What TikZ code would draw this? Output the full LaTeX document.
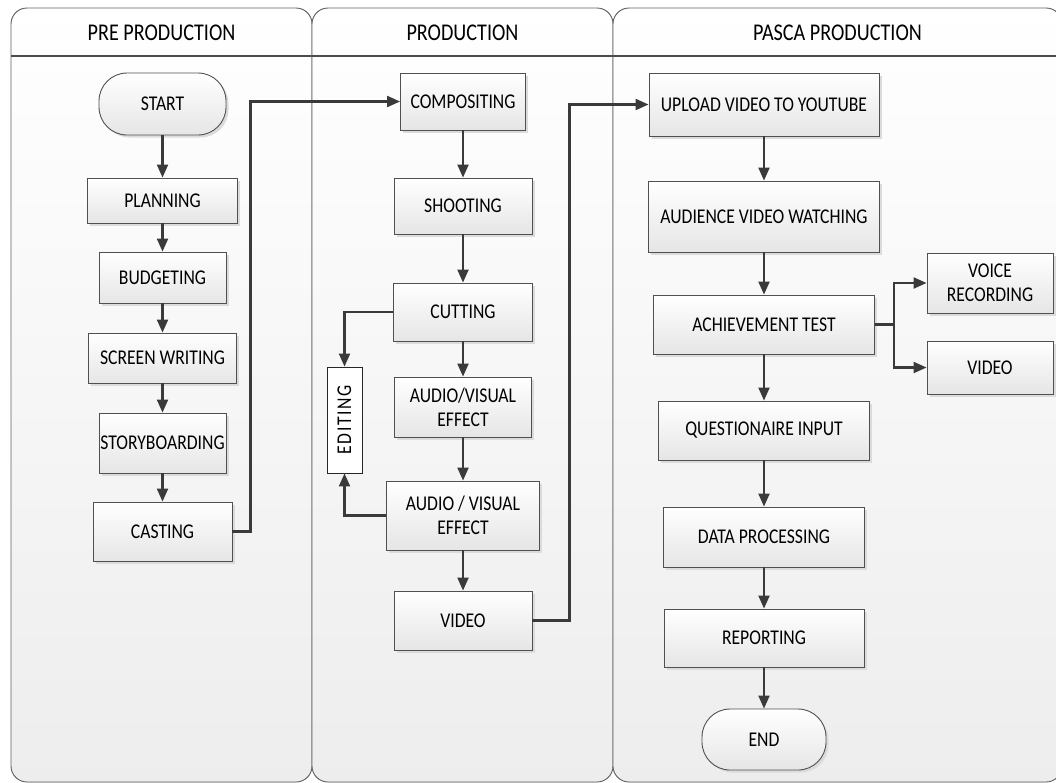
\documentclass[tikz,border=0pt]{standalone}
\usepackage{fontspec}
\setmainfont{Carlito}[FakeStretch=0.84]
\usetikzlibrary{arrows.meta}
\definecolor{ln}{HTML}{3a3a3a}
\definecolor{bd}{HTML}{505050}
\newcommand\bxfont{\fontsize{21}{24}\selectfont}
\newcommand\hdfont{\fontsize{24}{28}\selectfont}
\tikzset{
  lanebody/.style={top color=white, bottom color=black!7},
  lanehead/.style={top color=white, bottom color=black!10},
  laneline/.style={draw=black!62, line width=0.9pt},
  headtext/.style={font=\hdfont, text=black, inner sep=0pt},
  box/.style={draw=bd, line width=0.9pt, top color=white, bottom color=black!10,
    text=black, font=\bxfont, align=center, inner sep=0pt,
    preaction={fill=black!14, transform canvas={xshift=2.5pt, yshift=-2.5pt}}},
  term/.style={box, rounded corners=28pt},
  sidebox/.style={draw=black!85, line width=0.9pt, fill=white, text=black,
    font=\bxfont, inner sep=0pt, minimum width=35pt, minimum height=106pt},
  arr/.style={draw=ln, line width=2.1pt, -{Triangle[length=13pt,width=11pt]}},
  link/.style={draw=ln, line width=2.1pt},
}
\begin{document}
\begin{tikzpicture}[x=1pt,y=-1pt]
\useasboundingbox (0,0) rectangle (1056,782);
\clip (0,0) rectangle (1056,782);
\fill[white] (0,0) rectangle (1056,782);

% lanes
\foreach \xa/\xb in {11/312, 312/613, 613/1062}{
  \fill[lanebody, rounded corners=16pt] (\xa,8) rectangle (\xb,782);
  \begin{scope}
    \clip (\xa,0) rectangle (\xb,56);
    \fill[lanehead, rounded corners=16pt] (\xa,8) rectangle (\xb,782);
  \end{scope}
  \draw[laneline, rounded corners=16pt] (\xa,8) rectangle (\xb,782);
  \draw[draw=black!70, line width=1.1pt] (\xa,56) -- (\xb,56);
}
\node[headtext] (h1) at (161.5,32.5) {PRE PRODUCTION};
\node[headtext] (h2) at (462.5,32.5) {PRODUCTION};
\node[headtext] (h3) at (837.5,32.5) {PASCA PRODUCTION};

% lane 1
\node[term, minimum width=127pt, minimum height=62pt] (start) at (162.5,104) {START};
\node[box, minimum width=150pt, minimum height=45pt] (plan) at (162.5,200.5) {PLANNING};
\node[box, minimum width=127pt, minimum height=51pt] (budget) at (162.5,277.5) {BUDGETING};
\node[box, minimum width=148pt, minimum height=50pt] (screen) at (162.5,358) {SCREEN WRITING};
\node[box, minimum width=127pt, minimum height=60pt] (story) at (162.5,443) {STORYBOARDING};
\node[box, minimum width=139pt, minimum height=59pt] (cast) at (162.5,531.5) {CASTING};

% lane 2
\node[box, minimum width=125pt, minimum height=57pt] (comp) at (463,101.5) {COMPOSITING};
\node[box, minimum width=138pt, minimum height=56pt] (shoot) at (463,206) {SHOOTING};
\node[box, minimum width=139pt, minimum height=58pt] (cut) at (463,312) {CUTTING};
\node[box, minimum width=137pt, minimum height=60pt] (av1) at (463,407) {AUDIO/VISUAL\\EFFECT};
\node[box, minimum width=153pt, minimum height=69pt] (av2) at (463,515.5) {AUDIO / VISUAL\\EFFECT};
\node[box, minimum width=138pt, minimum height=59pt] (vid) at (463,620.5) {VIDEO};
\node[sidebox] (edit) at (344.5,420) {\rotatebox{90}{\addfontfeature{LetterSpace=8}EDITING}};

% lane 3
\node[box, minimum width=230pt, minimum height=63pt] (upload) at (764,104.5) {UPLOAD VIDEO TO YOUTUBE};
\node[box, minimum width=231pt, minimum height=71pt] (aud) at (764,216.5) {AUDIENCE VIDEO WATCHING};
\node[box, minimum width=221pt, minimum height=59pt] (ach) at (764,324.5) {ACHIEVEMENT TEST};
\node[box, minimum width=126pt, minimum height=60pt] (voice) at (990,283) {VOICE\\RECORDING};
\node[box, minimum width=126pt, minimum height=53pt] (vid2) at (990,367.5) {VIDEO};
\node[box, minimum width=211pt, minimum height=59pt] (quest) at (764,430.5) {QUESTIONAIRE INPUT};
\node[box, minimum width=201pt, minimum height=60pt] (data) at (764,537) {DATA PROCESSING};
\node[box, minimum width=200pt, minimum height=58pt] (rep) at (764,638) {REPORTING};
\node[term, minimum width=124pt, minimum height=61pt] (end) at (764,739.5) {END};

% connectors lane 1
\draw[arr] (start) -- (plan);
\draw[arr] (plan) -- (budget);
\draw[arr] (budget) -- (screen);
\draw[arr] (screen) -- (story);
\draw[arr] (story) -- (cast);
\draw[arr] (cast.east) -- ++(18,0) |- (comp.west);

% connectors lane 2
\draw[arr] (comp) -- (shoot);
\draw[arr] (shoot) -- (cut);
\draw[arr] (cut) -- (av1);
\draw[arr] (av1) -- (av2);
\draw[arr] (av2) -- (vid);
\draw[arr] (cut.west) -| (edit.north);
\draw[arr] (av2.west) -| (edit.south);
\draw[arr] (vid.east) -- ++(37,0) |- (upload.west);

% connectors lane 3
\draw[arr] (upload) -- (aud);
\draw[arr] (aud) -- (ach);
\draw[link] (ach.east) -- ++(19,0) coordinate (br);
\draw[arr] (br) |- (voice.west);
\draw[arr] (br) |- (vid2.west);
\draw[arr] (ach) -- (quest);
\draw[arr] (quest) -- (data);
\draw[arr] (data) -- (rep);
\draw[arr] (rep) -- (end);
\end{tikzpicture}
\end{document}
